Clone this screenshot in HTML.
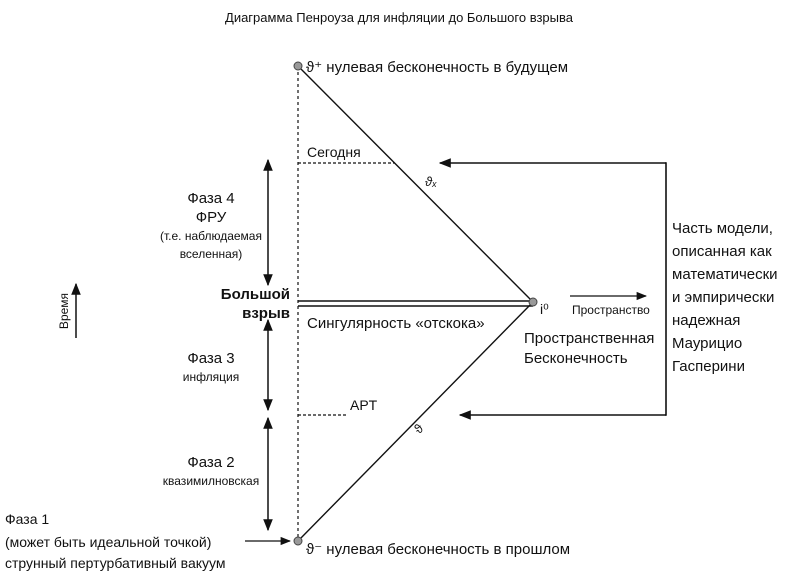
<!DOCTYPE html>
<html><head><meta charset="utf-8"><style>
body{margin:0;background:#fff}
svg text{font-family:"Liberation Sans",sans-serif;fill:#111}
</style></head><body>
<svg width="799" height="581" viewBox="0 0 799 581" xmlns="http://www.w3.org/2000/svg">
<defs>
<marker id="a" viewBox="0 0 10 10" refX="9" refY="5" markerWidth="8" markerHeight="8" orient="auto-start-reverse"><path d="M0,1 L10,5 L0,9 z" fill="#111"/></marker>
</defs>
<text x="399" y="22" font-size="13" text-anchor="middle">Диаграмма Пенроуза для инфляции до Большого взрыва</text>
<g stroke="#111" fill="none">
<line x1="298" y1="66" x2="298" y2="541" stroke-dasharray="3,3" stroke-width="1.2"/>
<line x1="298" y1="163" x2="395" y2="163" stroke-dasharray="3,2" stroke-width="1.2"/>
<line x1="298" y1="415" x2="348" y2="415" stroke-dasharray="3,2" stroke-width="1.2"/>
<line x1="298" y1="66" x2="533" y2="302" stroke-width="1.4"/>
<line x1="298" y1="541" x2="533" y2="302" stroke-width="1.4"/>
<line x1="298" y1="301" x2="533" y2="301" stroke-width="1.4"/>
<line x1="298" y1="306" x2="533" y2="306" stroke-width="1.4"/>
<polyline points="665,163 666,163 666,415 665,415" stroke-width="1.6"/>
<line x1="666" y1="163" x2="440" y2="163" stroke-width="1.5" marker-end="url(#a)"/>
<line x1="666" y1="415" x2="460" y2="415" stroke-width="1.5" marker-end="url(#a)"/>
<line x1="570" y1="296" x2="646" y2="296" stroke-width="1.3" marker-end="url(#a)"/>
<line x1="76" y1="338" x2="76" y2="284" stroke-width="1.5" marker-end="url(#a)"/>
<line x1="268" y1="160" x2="268" y2="285" stroke-width="1.5" marker-start="url(#a)" marker-end="url(#a)"/>
<line x1="268" y1="320" x2="268" y2="410" stroke-width="1.5" marker-start="url(#a)" marker-end="url(#a)"/>
<line x1="268" y1="418" x2="268" y2="530" stroke-width="1.5" marker-start="url(#a)" marker-end="url(#a)"/>
<line x1="245" y1="541" x2="290" y2="541" stroke-width="1.3" marker-end="url(#a)"/>
</g>
<circle cx="298" cy="66" r="4" fill="#999" stroke="#444"/>
<circle cx="298" cy="541" r="4" fill="#999" stroke="#444"/>
<circle cx="533" cy="302" r="4" fill="#999" stroke="#444"/>
<text x="306" y="72" font-size="15">ϑ⁺ нулевая бесконечность в будущем</text>
<text x="306" y="554" font-size="15">ϑ⁻ нулевая бесконечность в прошлом</text>
<text x="307" y="157" font-size="14">Сегодня</text>
<text x="425" y="186" font-size="13" font-style="italic">ϑₓ</text>
<text x="350" y="410" font-size="14">APT</text>
<text x="415" y="432" font-size="13" transform="rotate(-45 420 428)">ϑ</text>
<text x="307" y="328" font-size="15">Сингулярность «отскока»</text>
<text x="540" y="314" font-size="14">i⁰</text>
<text x="572" y="314" font-size="12">Пространство</text>
<text x="524" y="343" font-size="15">Пространственная</text>
<text x="524" y="363" font-size="15">Бесконечность</text>
<g font-size="15">
<text x="672" y="233">Часть модели,</text>
<text x="672" y="256">описанная как</text>
<text x="672" y="279">математически</text>
<text x="672" y="302">и эмпирически</text>
<text x="672" y="325">надежная</text>
<text x="672" y="348">Маурицио</text>
<text x="672" y="371">Гасперини</text>
</g>
<text x="68" y="311" font-size="12" text-anchor="middle" transform="rotate(-90 68 311)">Время</text>
<g text-anchor="middle">
<text x="211" y="203" font-size="15">Фаза 4</text>
<text x="211" y="222" font-size="15">ФРУ</text>
<text x="211" y="240" font-size="12">(т.е. наблюдаемая</text>
<text x="211" y="258" font-size="12">вселенная)</text>
<text x="211" y="363" font-size="15">Фаза 3</text>
<text x="211" y="381" font-size="12">инфляция</text>
<text x="211" y="467" font-size="15">Фаза 2</text>
<text x="211" y="485" font-size="12">квазимилновская</text>
</g>
<g text-anchor="end" font-weight="bold" font-size="15">
<text x="290" y="299">Большой</text>
<text x="290" y="318">взрыв</text>
</g>
<text x="5" y="524" font-size="14">Фаза 1</text>
<text x="5" y="547" font-size="14">(может быть идеальной точкой)</text>
<text x="5" y="568" font-size="14">струнный пертурбативный вакуум</text>
</svg>
</body></html>
